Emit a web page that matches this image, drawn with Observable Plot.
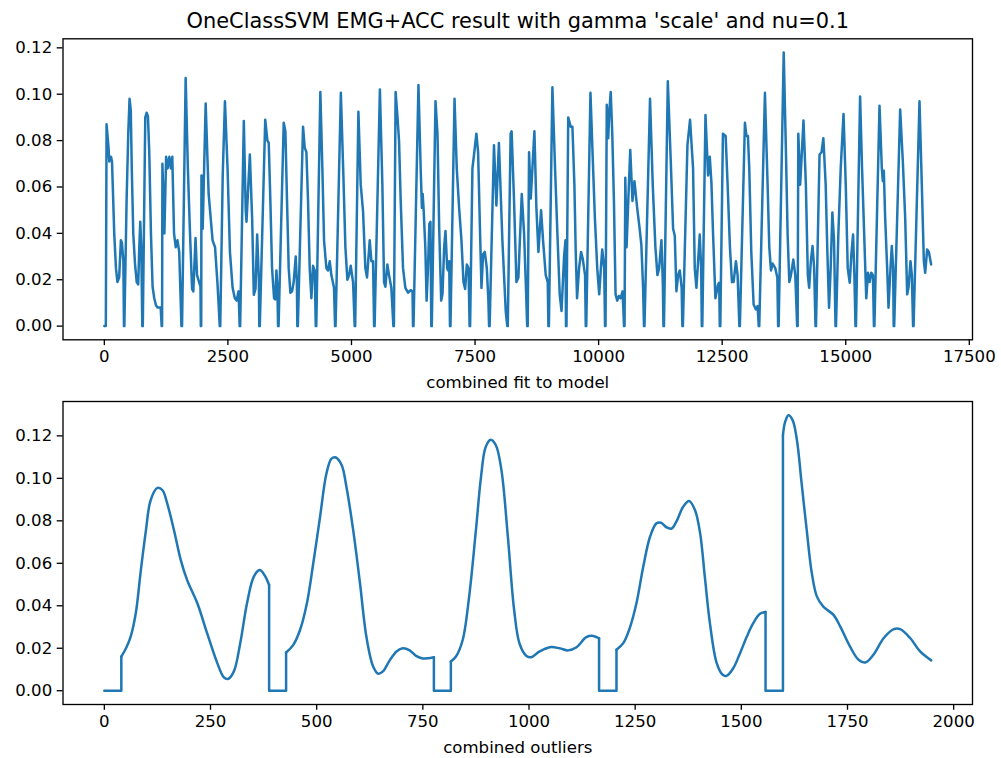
<!DOCTYPE html>
<html><head><meta charset="utf-8">
<script src="https://cdn.jsdelivr.net/npm/d3@7"></script>
<script src="https://cdn.jsdelivr.net/npm/@observablehq/plot@0.6"></script>
<style>
html,body{margin:0;padding:0;background:#fff;}
#chart{width:1001px;height:758px;position:relative;overflow:hidden;}
#chart svg{display:block;}
</style></head><body><div id="chart"></div>
<script>
// ---------- texts ----------
const titleText = "OneClassSVM EMG+ACC result with gamma 'scale' and nu=0.1";
const topXLabel = "combined fit to model";
const bottomXLabel = "combined outliers";

// ---------- tick values ----------
const topXTicks = [0, 2500, 5000, 7500, 10000, 12500, 15000, 17500];
const bottomXTicks = [0, 250, 500, 750, 1000, 1250, 1500, 1750, 2000];
const yTicks = [0, 0.02, 0.04, 0.06, 0.08, 0.10, 0.12];

// ---------- top series: combined fit to model (vertices) ----------
const fitX = [
  0,30,45,85,100,135,155,180,200,235,265,300,335,355,385,397,
  405,450,484,510,535,555,585,620,655,685,707,727,747,768,
  778,828,855,882,909,943,976,1010,1044,1077,1140,1160,
  1168,1175,1215,1250,1280,1315,1345,1375,1410,1445,1480,1515,1560,
  1572,1645,1690,1730,1775,1800,1845,1875,1945,1952,
  1960,1965,1990,2050,2110,2190,2240,2290,2335,
  2345,2395,2440,2493,2541,2595,2640,2676,2716,2738,
  2748,2822,2860,2876,2944,2991,3024,3058,3092,3126,3135,
  3145,3255,3299,3326,3359,3393,3434,3460,3481,3501,3515,
  3525,3629,3663,3696,3730,3764,3798,3831,3872,3895,3905,
  3915,4020,4054,4088,4121,4155,4189,4222,4256,4278,
  4288,4370,4411,4445,4492,4526,4560,4593,4647,4668,
  4678,4785,4836,4877,4917,4951,4985,5032,5065,
  5075,5140,5187,5234,5281,5315,5369,5403,5436,5458,
  5468,5575,5625,5659,5686,5726,5760,5807,5848,
  5858,5893,5928,5962,5996,6043,6090,6144,6198,6235,6245,
  6255,6355,6400,6425,6440,6460,6494,6520,6548,6575,6598,6615,
  6625,6700,6740,6775,6815,6842,6875,6902,6936,6956,6977,6993,
  7003,7085,7130,7178,7225,7266,7300,7334,7368,7390,
  7400,7447,7480,7527,7562,7596,7630,7663,7697,7738,7770,7784,
  7795,7883,7932,7983,8053,8121,8152,
  8162,8220,8240,8289,8337,8377,8445,8492,8526,8555,
  8565,8593,8627,8701,8741,8782,8836,8876,8930,8971,8984,
  8994,9065,9119,9166,9213,9250,9301,9330,9340,
  9350,9385,9435,9470,9510,9537,9564,9605,9645,9679,9726,9740,
  9750,9835,9877,9924,9972,10012,10046,10073,10113,10130,
  10140,10165,10195,10215,10245,10276,10310,10343,10377,10411,10444,10485,10515,
  10525,10540,10566,10600,10640,10685,10725,10780,10830,10865,10900,10918,
  10928,11040,11095,11149,11190,11224,11271,11300,11312,
  11322,11400,11460,11507,11541,11574,11608,11642,11680,11695,
  11705,11797,11850,11911,11945,11979,12013,12046,12075,12088,
  12098,12162,12215,12249,12282,12316,12363,12417,12440,12452,
  12462,12515,12570,12610,12657,12698,12731,12778,12812,12848,
  12858,12960,12990,13021,13048,13089,13136,13183,13217,13240,
  13250,13365,13419,13453,13487,13520,13574,13616,13632,
  13642,13745,13790,13824,13858,13891,13939,13979,14017,
  14027,14040,14078,14145,14193,14233,14260,14294,14328,14361,14388,
  14398,14470,14510,14547,14594,14628,14662,14695,14729,14763,14793,
  14803,14850,14898,14955,15000,15040,15081,15114,15148,15175,15197,
  15207,15290,15330,15373,15415,15450,15483,15517,15550,15570,
  15580,15683,15730,15750,15770,15797,15838,15865,15905,15932,15959,15970,
  15980,16101,16155,16202,16243,16270,16310,16337,16362,
  16372,16492,16539,16580,16607,16647,16681,16728
];
const fitY = [
  0,0,0.087,0.077,0.071,0.073,0.071,0.054,0.040,0.025,0.019,0.021,0.037,0.036,0.028,0,
  0,0.054,0.083,0.098,0.093,0.068,0.040,0.027,0.019,0.018,0.034,0.045,0.034,0,
  0,0.090,0.092,0.0905,0.075,0.040,0.017,0.012,0.009,0.008,0.008,0,
  0,0.070,0.040,0.073,0.068,0.073,0.068,0.073,0.040,0.034,0.037,0.032,0,
  0,0.107,0.068,0.042,0.016,0.015,0.038,0.022,0.017,0,
  0,0.065,0.042,0.096,0.057,0.037,0.034,0.018,0,
  0,0.065,0.097,0.068,0.032,0.0165,0.012,0.011,0.015,0,
  0,0.0885,0.05,0.045,0.074,0.046,0.0135,0.016,0.0395,0.02,0,
  0,0.089,0.080,0.079,0.054,0.025,0.012,0.0115,0.024,0.0165,0,
  0,0.0877,0.084,0.054,0.025,0.0144,0.015,0.019,0.030,0.019,0,
  0,0.086,0.077,0.075,0.054,0.025,0.012,0.026,0.024,0,
  0,0.101,0.068,0.037,0.025,0.024,0.028,0.022,0.0165,0,
  0,0.1006,0.065,0.034,0.020,0.022,0.026,0.019,0,
  0,0.0924,0.061,0.0496,0.025,0.021,0.037,0.028,0.028,0,
  0,0.102,0.061,0.019,0.017,0.0266,0.022,0.0165,0,
  0,0.101,0.091,0.080,0.054,0.025,0.0165,0.0144,0.0155,0.015,0,
  0,0.104,0.068,0.051,0.057,0.05,0.034,0.011,0.025,0.044,0.045,0,
  0,0.097,0.083,0.042,0.011,0.014,0.034,0.041,0.025,0.024,0.028,0,
  0,0.098,0.068,0.051,0.037,0.019,0.016,0.0266,0.025,0,
  0,0.068,0.074,0.083,0.075,0.045,0.0165,0.031,0.032,0.025,0.011,0,
  0,0.078,0.052,0.079,0.037,0.0065,0,
  0,0.083,0.084,0.054,0.019,0.021,0.057,0.040,0.019,0,
  0,0.075,0.055,0.084,0.051,0.032,0.050,0.037,0.022,0.019,0,
  0,0.103,0.068,0.040,0.0137,0.0065,0.030,0.037,0,
  0,0.090,0.086,0.086,0.061,0.032,0.012,0.025,0.032,0.029,0.022,0,
  0,0.1006,0.075,0.047,0.025,0.0137,0.025,0.033,0.025,0,
  0,0.0955,0.081,0.092,0.101,0.083,0.054,0.0137,0.011,0.013,0.012,0.015,0,
  0,0.064,0.034,0.054,0.076,0.054,0.0625,0.051,0.042,0.035,0.0165,0,
  0,0.098,0.061,0.034,0.022,0.025,0.037,0.018,0,
  0,0.1056,0.071,0.042,0.039,0.015,0.022,0.024,0.0165,0,
  0,0.078,0.089,0.068,0.025,0.0165,0.028,0.0395,0.025,0,
  0,0.091,0.065,0.073,0.062,0.0395,0.012,0.018,0.0187,0,
  0,0.083,0.082,0.061,0.034,0.019,0.019,0.028,0.022,0,
  0,0.0877,0.082,0.082,0.068,0.032,0.0093,0.0072,0.0086,0,
  0,0.1006,0.061,0.034,0.024,0.027,0.025,0.021,0,
  0,0.118,0.075,0.0395,0.019,0.022,0.0287,0.022,0,
  0,0.083,0.061,0.0887,0.061,0.022,0.0165,0.028,0.0345,0.025,0,
  0,0.074,0.075,0.081,0.061,0.032,0.0079,0.025,0.049,0.037,0,
  0,0.0395,0.068,0.0915,0.061,0.025,0.0187,0.031,0.0395,0.022,0,
  0,0.099,0.068,0.0395,0.012,0.023,0.019,0.023,0.022,0,
  0,0.095,0.068,0.0625,0.067,0.047,0.025,0.0079,0.025,0.0345,0.025,0,
  0,0.0934,0.071,0.047,0.0137,0.0165,0.028,0.022,0,
  0,0.097,0.061,0.028,0.023,0.033,0.032,0.0266
];

// ---------- bottom series: combined outliers (vertices) ----------
const outX = [
  0,40,
  40,51,62,74,86,98,109,125,137,148,164,180,195,219,242,266,281,291,305,320,336,352,366,377,388,
  388,428,
  428,445,461,477,492,508,523,535,545,559,570,586,602,617,633,645,656,672,688,703,719,734,750,762,776,
  776,816,
  816,828,844,859,875,887,898,910,922,935,950,965,978,994,1005,1025,1049,1072,1092,1112,1135,1151,1165,
  1165,1206,
  1206,1222,1237,1253,1269,1285,1300,1311,1324,1336,1347,1363,1377,1391,1403,1414,1426,1442,1456,1465,1481,1497,1513,1528,1544,1557,
  1557,1598,
  1598,1603,1611,1621,1631,1642,1654,1666,1678,1693,1717,1733,1756,1776,1792,1811,1835,1859,1874,1898,1921,1947
];
const outY = [
  0,0,
  0.0161,0.020,0.0255,0.0365,0.0568,0.0756,0.0897,0.0955,0.0944,0.0882,0.0756,0.0615,0.0521,0.0412,0.0271,0.0130,0.0064,0.0055,0.0091,0.0224,0.0412,0.0537,0.0568,0.0545,0.0498,
  0,0,
  0.018,0.0216,0.0287,0.0412,0.060,0.0819,0.1023,0.1093,0.1098,0.1062,0.096,0.0756,0.0506,0.0255,0.0114,0.008,0.0091,0.0143,0.0185,0.020,0.019,0.0164,0.0152,0.0153,0.0158,
  0,0,
  0.0138,0.0161,0.024,0.0443,0.0756,0.1007,0.1148,0.1182,0.1156,0.104,0.073,0.038,0.022,0.0164,0.0158,0.0185,0.0205,0.020,0.019,0.0205,0.0252,0.0258,0.0247,
  0,0,
  0.0193,0.0224,0.0294,0.0412,0.0584,0.0725,0.0788,0.0791,0.0769,0.0764,0.0796,0.0866,0.0893,0.085,0.0741,0.0537,0.0318,0.013,0.0075,0.007,0.0106,0.0177,0.0255,0.0318,0.0362,0.0371,
  0,0,
  0.1203,0.1265,0.1297,0.1273,0.1179,0.0976,0.0756,0.0553,0.0443,0.0396,0.0357,0.0302,0.0208,0.0146,0.0133,0.0169,0.0247,0.029,0.029,0.0247,0.0185,0.0143
];

// ---------- helpers ----------
const FONT = "DejaVu Sans";
const BLUE = "#1f77b4";
const TICK_FONT = 16.6;
const pad = ([a, b]) => { const r = b - a; return [a - 0.05 * r, b + 0.05 * r]; };

function panel({height, marginTop, marginBottom, xDomain, yDomain, xTicks, xLabel, title, marks}) {
  const extra = title ? [Plot.text([title], {frameAnchor: "top", dy: -18, fontSize: 20.9, lineAnchor: "middle", fill: "black"})] : [];
  return Plot.plot({
    width: 1001, height, marginLeft: 62.5, marginRight: 29, marginTop, marginBottom,
    style: {fontFamily: FONT, fontSize: TICK_FONT + "px", color: "black", background: "white", overflow: "visible"},
    x: {domain: xDomain},
    y: {domain: yDomain},
    marks: [
      ...marks,
      Plot.frame({stroke: "black", strokeWidth: 1.33}),
      Plot.axisX({ticks: xTicks, tickSize: 5.8, tickPadding: 5, tickFormat: d => String(d), strokeWidth: 1.33, fontSize: TICK_FONT, label: null}),
      Plot.axisY({ticks: yTicks, tickSize: 5.8, tickPadding: 5, tickFormat: d3.format(".2f"), strokeWidth: 1.33, fontSize: TICK_FONT, label: null}),
      Plot.text([xLabel], {frameAnchor: "bottom", dy: 43, fontSize: TICK_FONT, lineAnchor: "middle", fill: "black"}),
      ...extra
    ]
  });
}

// ---------- top panel ----------
const fitData = fitX.map((x, i) => ({x, y: fitY[i]}));
const topSvg = panel({
  height: 400, marginTop: 38.3, marginBottom: 60.7,
  xDomain: pad(d3.extent(fitX)), yDomain: pad(d3.extent(fitY)),
  xTicks: topXTicks, xLabel: topXLabel, title: titleText,
  marks: [Plot.line(fitData, {x: "x", y: "y", stroke: BLUE, strokeWidth: 2.5})]
});

// ---------- bottom panel ----------
const outPts = outX.map((x, i) => ({x, y: outY[i]}));
// smooth runs: consecutive points above zero
const smooth = [];
let seg = 0, inRun = false;
outPts.forEach(p => {
  if (p.y > 0) { smooth.push({...p, seg}); inRun = true; }
  else if (inRun) { seg++; inRun = false; }
});
// step pieces: runs of zero points plus their neighbours
const steps = [];
let sseg = 0;
for (let i = 0; i < outPts.length; i++) {
  if (outPts[i].y === 0) {
    let j = i;
    while (j + 1 < outPts.length && outPts[j + 1].y === 0) j++;
    if (i > 0) steps.push({...outPts[i - 1], seg: sseg});
    for (let k = i; k <= j; k++) steps.push({...outPts[k], seg: sseg});
    if (j + 1 < outPts.length) steps.push({...outPts[j + 1], seg: sseg});
    sseg++;
    i = j;
  }
}
const bottomSvg = panel({
  height: 358, marginTop: 1, marginBottom: 54,
  xDomain: pad(d3.extent(outX)), yDomain: pad(d3.extent(outY)),
  xTicks: bottomXTicks, xLabel: bottomXLabel,
  marks: [
    Plot.line(smooth, {x: "x", y: "y", z: "seg", curve: "catmull-rom", stroke: BLUE, strokeWidth: 2.5}),
    Plot.line(steps, {x: "x", y: "y", z: "seg", stroke: BLUE, strokeWidth: 2.5})
  ]
});

const chart = document.getElementById("chart");
chart.appendChild(topSvg);
chart.appendChild(bottomSvg);
</script></body></html>
